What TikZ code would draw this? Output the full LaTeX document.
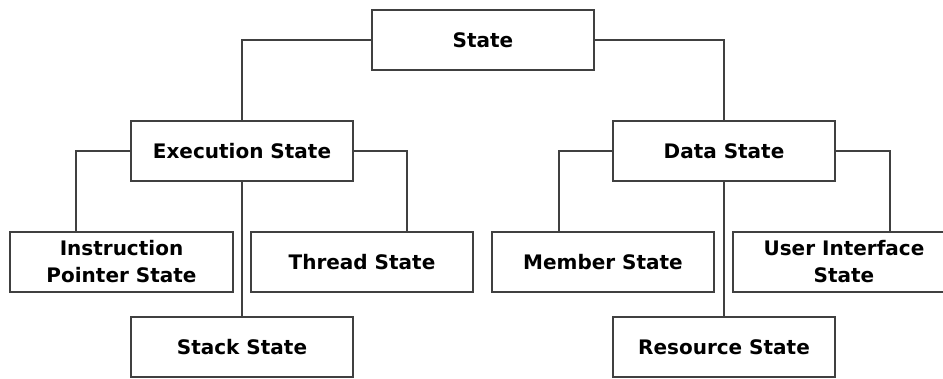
\documentclass[tikz,border=0pt]{standalone}
\usepackage{fontspec}
\setmainfont{DejaVu Sans}
\usetikzlibrary{positioning}
\begin{document}
\begin{tikzpicture}[x=1pt,y=1pt,line join=miter,
	box/.style={draw=black!75,line width=1.6pt,minimum width=222pt,minimum height=60pt,
		inner sep=2pt,align=center,font=\fontsize{20}{27}\selectfont\bfseries},
	link/.style={draw=black!75,line width=1.6pt}]
	\useasboundingbox (0,0) rectangle (943,379);
	% top level
	\node[box] (state) at (483,339) {State};
	% second level
	\node[box] (exec) at (242,228) {Execution State};
	\node[box] (data) at (724,228) {Data State};
	% third level
	\node[box,minimum width=223pt] (ip) at (121.5,117) {Instruction\\Pointer State};
	\node[box] (thread) at (362,117) {Thread State};
	\node[box] (member) at (603,117) {Member State};
	\node[box] (ui) at (844,117) {User Interface\\State};
	% bottom level
	\node[box] (stack) at (242,32) {Stack State};
	\node[box] (resource) at (724,32) {Resource State};
	
	\draw[link] (state.west) -| (exec.north);
	\draw[link] (state.east) -| (data.north);
	\draw[link] (exec.west) -| ([xshift=-45.5pt]ip.north);
	\draw[link] (exec.east) -| ([xshift=45pt]thread.north);
	\draw[link] (exec.south) -- (stack.north);
	\draw[link] (data.west) -| ([xshift=-44pt]member.north);
	\draw[link] (data.east) -| ([xshift=46pt]ui.north);
	\draw[link] (data.south) -- (resource.north);
\end{tikzpicture}
\end{document}
